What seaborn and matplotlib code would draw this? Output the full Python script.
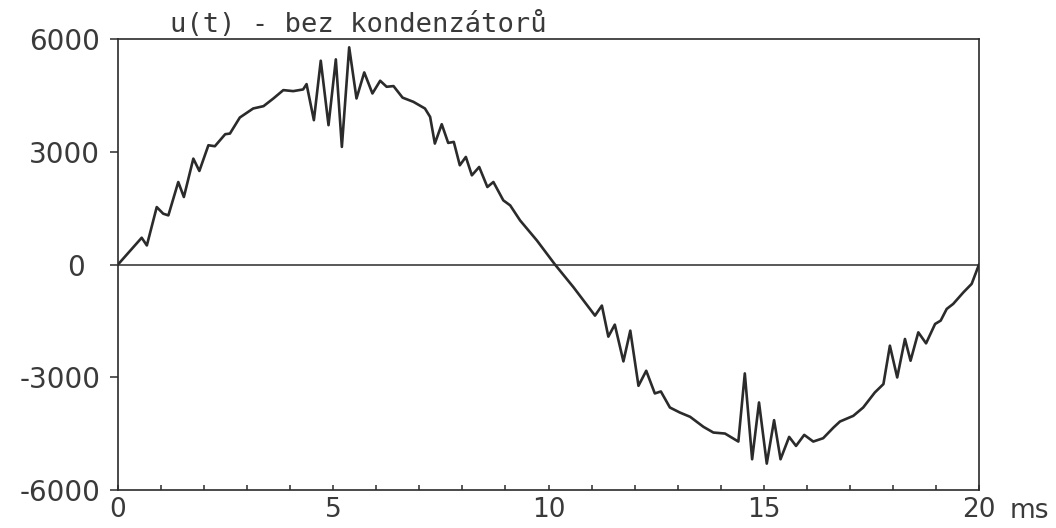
import numpy as np
import pandas as pd
import matplotlib
matplotlib.use("Agg")
import matplotlib.pyplot as plt
from matplotlib.ticker import MultipleLocator
from matplotlib.transforms import ScaledTranslation
import seaborn as sns

# time in ms and voltage samples of the waveform
t_ms = [
    0, 0.55, 0.67, 0.90, 1.05, 1.17, 1.40, 1.53, 1.75, 1.89,
    2.10, 2.25, 2.49, 2.60, 2.83, 3.14, 3.38, 3.61, 3.84, 4.07,
    4.30, 4.38, 4.55, 4.71, 4.89, 5.06, 5.20, 5.37, 5.54, 5.72,
    5.91, 6.09, 6.24, 6.40, 6.61, 6.86, 7.13, 7.25, 7.36, 7.52,
    7.67, 7.80, 7.94, 8.08, 8.22, 8.39, 8.58, 8.72, 8.95, 9.11,
    9.34, 9.73, 10.15, 10.58, 11.08, 11.24, 11.39, 11.54, 11.74, 11.90,
    12.09, 12.27, 12.47, 12.61, 12.82, 13.05, 13.29, 13.60, 13.83, 14.10,
    14.41, 14.56, 14.73, 14.89, 15.07, 15.24, 15.39, 15.59, 15.75, 15.94,
    16.15, 16.38, 16.62, 16.77, 17.08, 17.31, 17.58, 17.78, 17.93, 18.10,
    18.28, 18.41, 18.59, 18.77, 18.98, 19.11, 19.25, 19.40, 19.64, 19.83,
    20.0,
]
u_volts = [
    0, 712, 507, 1528, 1352, 1307, 2195, 1796, 2817, 2489,
    3173, 3147, 3467, 3484, 3911, 4151, 4213, 4418, 4640, 4613,
    4658, 4800, 3840, 5422, 3707, 5458, 3129, 5778, 4418, 5111,
    4551, 4889, 4729, 4747, 4440, 4329, 4151, 3928, 3218, 3733,
    3235, 3262, 2640, 2862, 2373, 2595, 2062, 2195, 1707, 1573,
    1173, 640, 0, -605, -1360, -1093, -1920, -1600, -2578, -1760,
    -3227, -2827, -3431, -3378, -3805, -3938, -4053, -4320, -4471, -4498,
    -4711, -2898, -5182, -3671, -5298, -4142, -5182, -4587, -4827, -4533,
    -4711, -4622, -4338, -4178, -4027, -3805, -3405, -3182, -2160, -3005,
    -1982, -2560, -1805, -2098, -1582, -1493, -1182, -1049, -738, -515,
    0,
]
x_ticks = [0, 5, 10, 15, 20]
y_ticks = [-6000, -3000, 0, 3000, 6000]
title = "u(t) - bez kondenzátorů"

sns.set_theme(style="white")
plt.rcParams["font.family"] = ["DejaVu Sans"]

ink = "#2b2b2b"
text_ink = "#3a3a3a"
mono = ["DejaVu Sans Mono", "DejaVu Sans"]
df = pd.DataFrame({"t": t_ms, "u": u_volts})

fig = plt.figure(figsize=(10.56, 5.28), dpi=100)
ax = fig.add_axes([118 / 1056, 1 - 490 / 528, (979 - 118) / 1056, (490 - 39) / 528])

ax.axhline(0, color=ink, lw=1.1, zorder=1)
sns.lineplot(data=df, x="t", y="u", ax=ax, color=ink, lw=1.9,
             estimator=None, sort=False, zorder=3)

ax.set_xlim(0, 20)
ax.set_ylim(-6000, 6000)
ax.set_xticks(x_ticks)
ax.set_xticklabels([str(v) for v in x_ticks])
ax.xaxis.set_minor_locator(MultipleLocator(1))
ax.set_yticks(y_ticks)
ax.set_yticklabels([str(v) for v in y_ticks])
ax.set_xlabel("")
ax.set_ylabel("")

ax.tick_params(axis="x", which="both", direction="in", length=3.5, width=1.1,
               color=ink, pad=5, labelsize=19, labelcolor=text_ink,
               bottom=True)
ax.tick_params(axis="y", direction="out", length=5.8, width=1.1, color=ink,
               pad=7, labelsize=20, labelcolor=text_ink, left=True)

# the zero label sits a little further left than the others
for lbl, val in zip(ax.get_yticklabels(), y_ticks):
    if val == 0:
        lbl.set_transform(lbl.get_transform()
                          + ScaledTranslation(-0.15, 0, fig.dpi_scale_trans))

for side in ax.spines.values():
    side.set_color(ink)
    side.set_linewidth(1.2)

fig.text(170 / 1056, 1 - 32 / 528, title, fontsize=19.5, color=text_ink,
         family=mono, ha="left", va="baseline")
fig.text(1010 / 1056, 1 - 511 / 528, "ms", fontsize=19, color=text_ink,
         ha="left", va="center")

fig.savefig("out.png", dpi=100, facecolor="white")
